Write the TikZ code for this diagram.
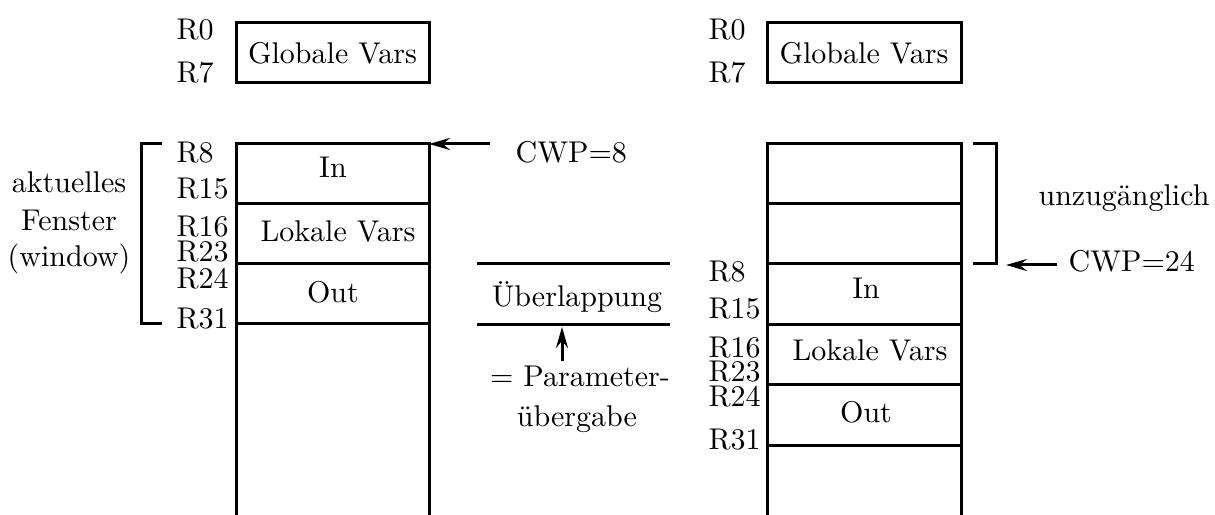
\documentclass[tikz,border=0pt]{standalone}
\usetikzlibrary{arrows.meta}
\begin{document}
\begin{tikzpicture}[x=0.33333pt,y=-0.33333pt,
  ln/.style={line width=1pt},
  reg/.style={anchor=west,inner sep=0pt},
  txt/.style={inner sep=0pt},
  arr/.style={ln,-{Stealth[length=7pt,width=4pt,inset=2.4pt]}}]
\useasboundingbox (0,0) rectangle (1215,515);
% ---------- left ----------
\node[reg] (lr0) at (176,30) {R0};
\node[reg] (lr7) at (176,73) {R7};
\draw[ln] (236,23) rectangle (429,83);
\node[txt] (lglob) at (332.5,53) {Globale Vars};
\draw[ln] (236,515) -- (236,144) -- (429,144) -- (429,515);
\draw[ln] (236,204) -- (429,204) (236,264) -- (429,264) (236,324) -- (429,324);
\node[txt] (lin) at (333,167) {In};
\node[txt] (lloc) at (338,231) {Lokale Vars};
\node[txt] (lout) at (333,292) {Out};
\node[reg] (lr8) at (176,152.5) {R8};
\node[reg] (lr15) at (176,188.5) {R15};
\node[reg] (lr16) at (176,227) {R16};
\node[reg] (lr23) at (176,252) {R23};
\node[reg] (lr24) at (176,278.5) {R24};
\node[reg] (lr31) at (176,319) {R31};
\draw[ln] (162,144) -- (141,144) -- (141,324) -- (162,324);
\node[txt,anchor=base] (akt) at (69,193) {aktuelles};
\node[txt,anchor=base] (fen) at (69,231) {Fenster};
\node[txt,anchor=base] (win) at (69,267) {(window)};
\coordinate (ltop) at (429,144);
\coordinate (la) at (490,144);
\draw[arr] (la) -- (ltop);
\node[reg] (cwp8) at (515,152) {CWP=8};
% ---------- middle ----------
\draw[ln] (477,264) -- (670,264) (477,325) -- (670,325);
\node[txt,anchor=base] (ueb) at (577,307) {Überlappung};
\coordinate (ua) at (562,361);
\coordinate (ub) at (562,327);
\draw[arr] (ua) -- (ub);
\node[txt,anchor=base] (par) at (580,387) {= Parameter-};
\node[txt,anchor=base] (uebg) at (577,427) {übergabe};
% ---------- right ----------
\node[reg] (rr0) at (708,30) {R0};
\node[reg] (rr7) at (708,73) {R7};
\draw[ln] (767,23) rectangle (961,83);
\node[txt] (rglob) at (864,53) {Globale Vars};
\draw[ln] (767,515) -- (767,144) -- (961,144) -- (961,515);
\draw[ln] (767,204) -- (961,204) (767,264) -- (961,264) (767,325) -- (961,325)
  (767,385) -- (961,385) (767,446) -- (961,446);
\node[txt] (rin) at (866,288) {In};
\node[txt] (rloc) at (870,350) {Lokale Vars};
\node[txt] (rout) at (866,412) {Out};
\node[reg] (rr8) at (708,272) {R8};
\node[reg] (rr15) at (708,309) {R15};
\node[reg] (rr16) at (708,347.5) {R16};
\node[reg] (rr23) at (708,371.5) {R23};
\node[reg] (rr24) at (708,397) {R24};
\node[reg] (rr31) at (708,440) {R31};
\draw[ln] (973,144) -- (996,144) -- (996,264) -- (973,264);
\node[txt,anchor=base west] (unz) at (1038,206) {unzugänglich};
\coordinate (ra) at (1057,265);
\coordinate (rb) at (1006,265);
\draw[arr] (ra) -- (rb);
\node[reg] (cwp24) at (1068,261) {CWP=24};
\end{tikzpicture}
\end{document}
